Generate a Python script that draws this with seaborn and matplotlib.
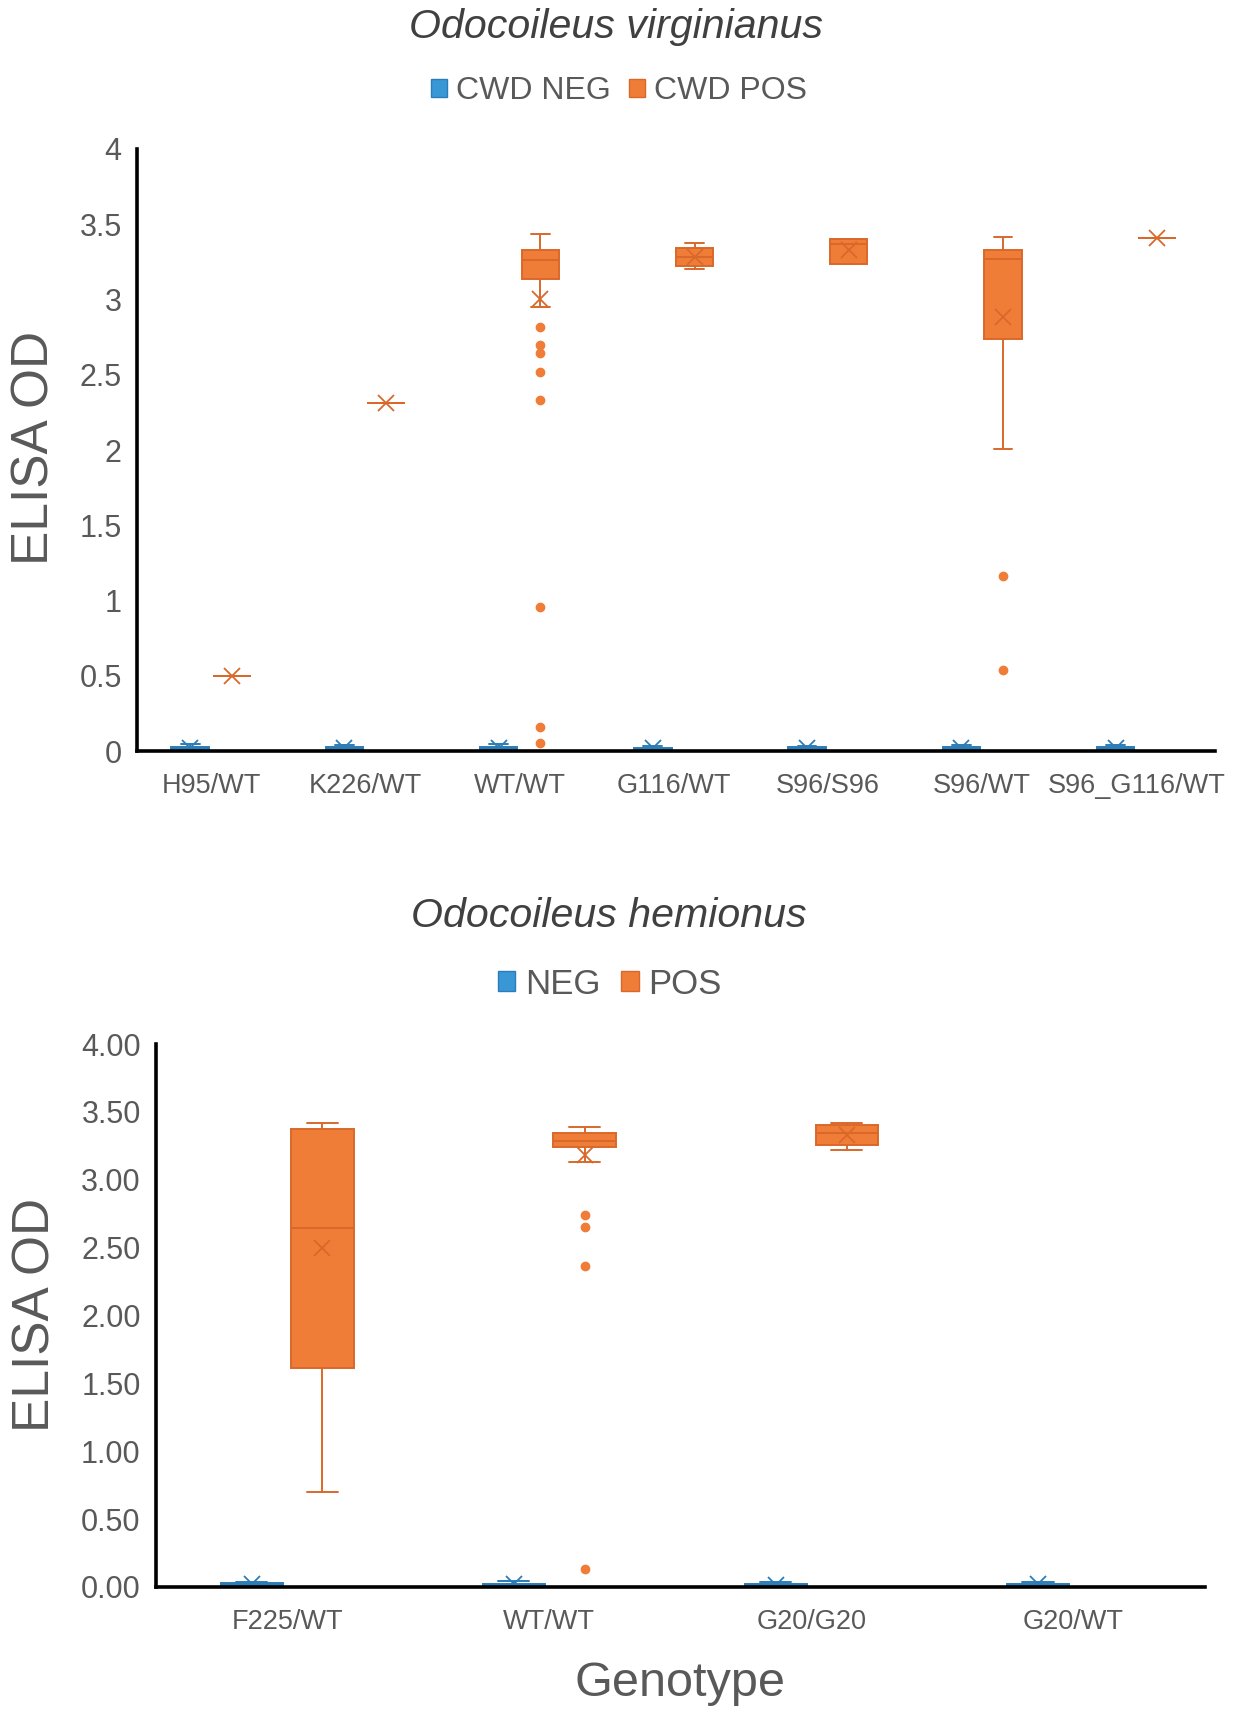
import numpy as np
import pandas as pd
import matplotlib
matplotlib.use("Agg")
import matplotlib.pyplot as plt
import seaborn as sns
from matplotlib.patches import Patch
from matplotlib.ticker import FuncFormatter, MultipleLocator

# ---------------- data: Odocoileus virginianus (top) ----------------
wtd_genotypes = ["H95/WT", "K226/WT", "WT/WT", "G116/WT", "S96/S96", "S96/WT", "S96_G116/WT"]

wtd_neg_h95 = [0.004, 0.008, 0.012, 0.018, 0.025, 0.031, 0.045]
wtd_neg_k226 = [0.005, 0.009, 0.013, 0.017, 0.024, 0.030, 0.040]
wtd_neg_wt = [0.003, 0.007, 0.011, 0.016, 0.022, 0.029, 0.048]
wtd_neg_g116 = [0.004, 0.008, 0.012, 0.015, 0.020, 0.026, 0.035]
wtd_neg_s96s96 = [0.005, 0.009, 0.012, 0.016, 0.021, 0.027, 0.036]
wtd_neg_s96 = [0.004, 0.008, 0.013, 0.018, 0.024, 0.030, 0.042]
wtd_neg_s96g116 = [0.005, 0.008, 0.012, 0.016, 0.022, 0.028, 0.038]

wtd_pos_h95 = [0.50]
wtd_pos_k226 = [2.31]
wtd_pos_wt = [0.05, 0.16, 0.957, 2.335, 2.519, 2.646, 2.70, 2.814,
              2.95, 3.05, 3.12, 3.14, 3.16, 3.18, 3.20, 3.21, 3.22, 3.23,
              3.24, 3.245, 3.25, 3.255, 3.265, 3.27, 3.28, 3.285, 3.29, 3.30,
              3.305, 3.31, 3.315, 3.32, 3.325, 3.33, 3.34, 3.35, 3.36, 3.37,
              3.38, 3.39, 3.40, 3.41, 3.42, 3.434]
wtd_pos_g116 = [3.20, 3.215, 3.22, 3.25, 3.285, 3.31, 3.34, 3.345, 3.373]
wtd_pos_s96s96 = [3.235, 3.235, 3.37, 3.40, 3.40]
wtd_pos_s96 = [0.538, 1.165, 2.009, 2.30, 2.55, 2.739, 2.95, 3.10, 3.20, 3.25,
               3.271, 3.28, 3.29, 3.30, 3.315, 3.329, 3.35, 3.37, 3.39, 3.40, 3.418]
wtd_pos_s96g116 = [3.41]

# ---------------- data: Odocoileus hemionus (bottom) ----------------
md_genotypes = ["F225/WT", "WT/WT", "G20/G20", "G20/WT"]

md_neg_f225 = [0.004, 0.008, 0.012, 0.017, 0.023, 0.030, 0.040]
md_neg_wt = [0.003, 0.007, 0.011, 0.016, 0.022, 0.028, 0.045]
md_neg_g20g20 = [0.005, 0.009, 0.012, 0.016, 0.021, 0.027, 0.036]
md_neg_g20 = [0.004, 0.008, 0.012, 0.017, 0.022, 0.029, 0.038]

md_pos_f225 = [0.703, 1.55, 1.611, 2.50, 2.645, 3.30, 3.374, 3.40, 3.421]
md_pos_wt = [0.129, 2.363, 2.653, 2.742, 3.133,
             3.15, 3.17, 3.19, 3.20, 3.21, 3.22, 3.235, 3.243,
             3.245, 3.25, 3.255, 3.26, 3.265, 3.27, 3.27, 3.275, 3.28, 3.28, 3.283,
             3.285,
             3.29, 3.295, 3.30, 3.30, 3.31, 3.315, 3.32, 3.325, 3.33, 3.335, 3.34,
             3.342,
             3.345, 3.35, 3.35, 3.355, 3.36, 3.36, 3.365, 3.37, 3.375, 3.38, 3.383, 3.386]
md_pos_g20g20 = [3.218, 3.24, 3.255, 3.30, 3.342, 3.37, 3.40, 3.41, 3.421]
md_pos_g20 = []

# ---------------- styling ----------------
BLUE = "#3A97D6"
BLUE_EDGE = "#2C7CB8"
ORANGE = "#F07D37"
ORANGE_EDGE = "#D9682A"
TXT = "#595959"
TITLE_TXT = "#404040"

sns.set_theme(style="white")
plt.rcParams["font.family"] = ["Liberation Sans", "DejaVu Sans"]


def build_frame(genos, neg_lists, pos_lists):
    rows = []
    for g, neg, pos in zip(genos, neg_lists, pos_lists):
        rows += [(g, "NEG", v) for v in neg]
        rows += [(g, "POS", v) for v in pos]
    return pd.DataFrame(rows, columns=["genotype", "status", "od"])


wtd_df = build_frame(
    wtd_genotypes,
    [wtd_neg_h95, wtd_neg_k226, wtd_neg_wt, wtd_neg_g116, wtd_neg_s96s96, wtd_neg_s96, wtd_neg_s96g116],
    [wtd_pos_h95, wtd_pos_k226, wtd_pos_wt, wtd_pos_g116, wtd_pos_s96s96, wtd_pos_s96, wtd_pos_s96g116],
)
md_df = build_frame(
    md_genotypes,
    [md_neg_f225, md_neg_wt, md_neg_g20g20, md_neg_g20],
    [md_pos_f225, md_pos_wt, md_pos_g20g20, md_pos_g20],
)


def draw(ax, df, order, width, gap):
    for status, fc, ec in [("NEG", BLUE, BLUE_EDGE), ("POS", ORANGE, ORANGE_EDGE)]:
        sub = df[df["status"] == status]
        sns.boxplot(
            data=sub, x="genotype", y="od", hue="status",
            order=order, hue_order=["NEG", "POS"],
            palette={"NEG": BLUE, "POS": ORANGE}, saturation=1,
            dodge=True, width=width, gap=gap,
            linecolor=ec, linewidth=1.4, whis=1.5,
            showmeans=True,
            meanprops=dict(marker="x", markeredgecolor=ec, markerfacecolor=ec,
                           markersize=11, markeredgewidth=1.3),
            flierprops=dict(marker="o", markerfacecolor=fc, markeredgecolor=fc,
                            markersize=6),
            legend=False, ax=ax,
        )


fig = plt.figure(figsize=(12.35, 17.14), dpi=100)
W, H = 1235.0, 1714.0

ax1 = fig.add_axes([137 / W, 1 - 751 / H, 1078 / W, 602 / H])
ax2 = fig.add_axes([156 / W, 1 - 1587 / H, 1048.5 / W, 543 / H])

draw(ax1, wtd_df, wtd_genotypes, width=0.54, gap=0.1)
draw(ax2, md_df, md_genotypes, width=0.54, gap=0.12)

ax1.set_xlim(-0.48, 6.51)
ax1.set_ylim(0, 4)
ax1.yaxis.set_major_locator(MultipleLocator(0.5))
ax1.yaxis.set_major_formatter(FuncFormatter(lambda v, _: f"{v:g}"))

ax2.set_xlim(-0.5, 3.5)
ax2.set_ylim(0, 4)
ax2.yaxis.set_major_locator(MultipleLocator(0.5))
ax2.yaxis.set_major_formatter(FuncFormatter(lambda v, _: f"{v:.2f}"))

for ax in (ax1, ax2):
    ax.set_xlabel("")
    ax.set_ylabel("")
    for s in ("top", "right"):
        ax.spines[s].set_visible(False)
    for s in ("left", "bottom"):
        ax.spines[s].set_color("black")
        ax.spines[s].set_linewidth(2.6)
    ax.tick_params(axis="both", length=0)
    ax.tick_params(axis="x", pad=16, labelsize=19.5, labelcolor=TXT)
    ax.tick_params(axis="y", pad=11, labelsize=22, labelcolor=TXT)
    ax.patch.set_alpha(0)

# titles
fig.text(616 / W, 1 - 27 / H, "Odocoileus virginianus", ha="center", va="center",
         fontsize=29.6, style="italic", color=TITLE_TXT)
fig.text(609 / W, 1 - 916 / H, "Odocoileus hemionus", ha="center", va="center",
         fontsize=29.6, style="italic", color=TITLE_TXT)

# y labels
fig.text(35 / W, 1 - 448 / H, "ELISA OD", rotation=90, ha="center", va="center",
         fontsize=37, color=TXT)
fig.text(36 / W, 1 - 1315 / H, "ELISA OD", rotation=90, ha="center", va="center",
         fontsize=37, color=TXT)

# x label
fig.text(680 / W, 1 - 1683 / H, "Genotype", ha="center", va="center",
         fontsize=35, color=TXT)

# legends
h_top = [Patch(facecolor=BLUE, edgecolor=BLUE_EDGE, label="CWD NEG"),
         Patch(facecolor=ORANGE, edgecolor=ORANGE_EDGE, label="CWD POS")]
leg1 = fig.legend(handles=h_top, loc="center", bbox_to_anchor=(619 / W, 1 - 91 / H),
                  ncol=2, frameon=False, fontsize=23, handlelength=0.5, handleheight=0.5,
                  handletextpad=0.28, columnspacing=0.6, borderpad=0)
for t in leg1.get_texts():
    t.set_color(TXT)

h_bot = [Patch(facecolor=BLUE, edgecolor=BLUE_EDGE, label="NEG"),
         Patch(facecolor=ORANGE, edgecolor=ORANGE_EDGE, label="POS")]
leg2 = fig.legend(handles=h_bot, loc="center", bbox_to_anchor=(610 / W, 1 - 984 / H),
                  ncol=2, frameon=False, fontsize=25, handlelength=0.5, handleheight=0.5,
                  handletextpad=0.28, columnspacing=0.6, borderpad=0)
for t in leg2.get_texts():
    t.set_color(TXT)

fig.savefig("out.png", dpi=100)
